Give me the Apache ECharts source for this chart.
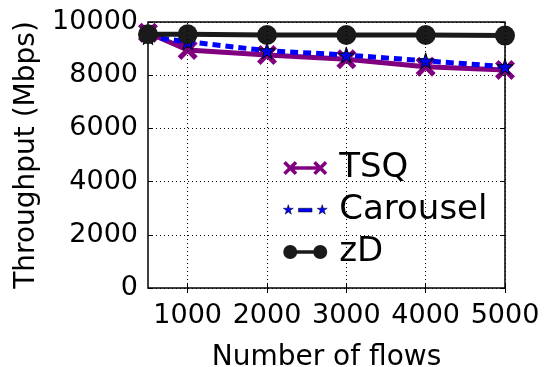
<!DOCTYPE html>
<html>
<head>
<meta charset="utf-8">
<script src="https://cdn.jsdelivr.net/npm/echarts@6/dist/echarts.min.js"></script>
<style>
  html, body { margin: 0; padding: 0; background: #fff; }
  #main { width: 546px; height: 367px; }
</style>
</head>
<body>
<div id="main"></div>
<script>
// 数据
var flows = [500, 1000, 2000, 3000, 4000, 5000];
var tsq = [9600, 8950, 8760, 8600, 8320, 8200];
var carousel = [9450, 9260, 8920, 8760, 8540, 8320];
var zd = [9540, 9540, 9510, 9510, 9510, 9490];
var xTicks = [1000, 2000, 3000, 4000, 5000];

function pairs(ys) {
    return flows.map(function (x, i) { return [x, ys[i]]; });
}

// 标记形状
var xMark = 'path://M0,18 L18,0 L50,32 L82,0 L100,18 L68,50 L100,82 L82,100 L50,68 L18,100 L0,82 L32,50 Z';
var starMark = 'path://M50,0 L61,35 L98,35 L68,57 L79,91 L50,70 L21,91 L32,57 L2,35 L39,35 Z';

// 图例图标: 两个标记加中间的线 (440 x 140 的框)
var tsqIcon = 'path://M0,25 L25,0 L70,45 L115,0 L140,25 L95,70 L140,115 L115,140 L70,95 L25,140 L0,115 L45,70 Z ' +
    'M300,25 L325,0 L370,45 L415,0 L440,25 L395,70 L440,115 L415,140 L370,95 L325,140 L300,115 L345,70 Z ' +
    'M70,52 L370,52 L370,88 L70,88 Z';
var carIcon = 'path://M220,0 L220,0 M220,140 L220,140 ' +
    'M45,15 L57,52 L97,52 L65,75 L77,113 L45,90 L13,113 L25,75 L-7,52 L33,52 Z ' +
    'M395,15 L407,52 L447,52 L415,75 L427,113 L395,90 L363,113 L375,75 L343,52 L383,52 Z ' +
    'M150,52 L290,52 L290,90 L150,90 Z';
var zdIcon = 'path://M0,70 A70,70 0 1,1 140,70 A70,70 0 1,1 0,70 Z ' +
    'M300,70 A70,70 0 1,1 440,70 A70,70 0 1,1 300,70 Z ' +
    'M70,52 L370,52 L370,88 L70,88 Z';

var myChart = echarts.init(document.getElementById('main'), null, { renderer: 'canvas' });

var font = 'DejaVu Sans';
var gridLine = { show: true, lineStyle: { color: '#000', type: [1, 3], width: 1 } };
var plain = function (v) { return String(v); };

var option = {
    backgroundColor: '#fff',
    animation: false,
    textStyle: { fontFamily: font },
    grid: {
        left: 148, right: 41, top: 22, bottom: 79,
        outerBoundsMode: 'none',
        containLabel: false,
        show: true, borderColor: '#000', borderWidth: 1.5
    },
    legend: {
        orient: 'vertical',
        left: 278,
        top: 146,
        itemWidth: 44,
        itemHeight: 14,
        itemGap: 8,
        textStyle: { fontSize: 34, color: '#000', fontFamily: font, padding: [0, 0, 0, 7] },
        data: [
            { name: 'TSQ', icon: tsqIcon },
            { name: 'Carousel', icon: carIcon, itemStyle: { borderWidth: 0.5, borderColor: '#000' } },
            { name: 'zD', icon: zdIcon }
        ]
    },
    xAxis: [{
        type: 'value',
        min: 500,
        max: 5000,
        name: 'Number of flows',
        nameLocation: 'middle',
        nameGap: 56,
        nameTextStyle: { fontSize: 28, color: '#000', fontFamily: font },
        axisLine: { show: false },
        axisTick: { show: true, inside: true, length: 5, customValues: xTicks, lineStyle: { color: '#000' } },
        axisLabel: { fontSize: 27, color: '#000', margin: 14, customValues: xTicks, fontFamily: font, formatter: plain },
        splitLine: { show: false }
    }, {
        type: 'value',
        position: 'top',
        min: 500,
        max: 5000,
        axisLine: { show: false },
        axisTick: { show: true, inside: true, length: 5, customValues: xTicks, lineStyle: { color: '#000' } },
        axisLabel: { show: false },
        splitLine: { show: false }
    }],
    yAxis: [{
        type: 'value',
        min: 0,
        max: 10000,
        interval: 2000,
        name: 'Throughput (Mbps)',
        nameLocation: 'middle',
        nameGap: 100,
        nameTextStyle: { fontSize: 28, color: '#000', fontFamily: font },
        axisLine: { show: false },
        axisTick: { show: true, inside: true, length: 5, lineStyle: { color: '#000' } },
        axisLabel: { fontSize: 27, color: '#000', margin: 10, fontFamily: font, formatter: plain },
        splitLine: gridLine
    }, {
        type: 'value',
        position: 'right',
        min: 0,
        max: 10000,
        interval: 2000,
        axisLine: { show: false },
        axisTick: { show: true, inside: true, length: 5, lineStyle: { color: '#000' } },
        axisLabel: { show: false },
        splitLine: { show: false }
    }],
    series: [
        {
            // x方向的网格线
            type: 'line',
            name: '_grid',
            data: [],
            silent: true,
            markLine: {
                symbol: 'none',
                silent: true,
                label: { show: false },
                lineStyle: { color: '#000', type: [1, 3], width: 1 },
                data: xTicks.map(function (v) { return { xAxis: v }; })
            }
        },
        {
            name: 'TSQ',
            type: 'line',
            data: pairs(tsq),
            color: '#800080',
            lineStyle: { width: 5, color: '#800080' },
            symbol: xMark,
            symbolSize: 20,
            itemStyle: { color: '#800080' },
            z: 2
        },
        {
            name: 'Carousel',
            type: 'line',
            data: pairs(carousel),
            color: '#0000ff',
            lineStyle: { width: 5, color: '#0000ff', type: [8, 5] },
            symbol: starMark,
            symbolSize: 16,
            itemStyle: { color: '#0000ff', borderColor: '#000', borderWidth: 1 },
            z: 3
        },
        {
            name: 'zD',
            type: 'line',
            data: pairs(zd),
            color: '#1a1a1a',
            lineStyle: { width: 5, color: '#1a1a1a' },
            symbol: 'circle',
            symbolSize: 20,
            itemStyle: { color: '#1a1a1a' },
            z: 4
        }
    ]
};

myChart.setOption(option);
</script>
</body>
</html>
